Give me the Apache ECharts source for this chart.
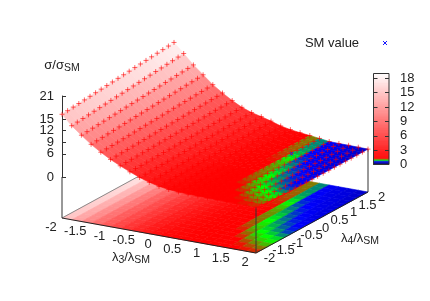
<!DOCTYPE html>
<html>
<head>
<meta charset="utf-8">
<style>html,body{margin:0;padding:0;background:#fff}#c{width:430px;height:301px}</style>
<script src="https://cdn.jsdelivr.net/npm/echarts@6/dist/echarts.min.js"></script>
</head>
<body>
<div id="c"></div>
<script>
const lambda3Values = [-2,-1.8,-1.6,-1.4,-1.2,-1,-0.8,-0.6,-0.4,-0.2,0,0.2,0.4,0.6,0.8,1,1.2,1.4,1.6,1.8,2];
const lambda4Values = [-2,-1.8,-1.6,-1.4,-1.2,-1,-0.8,-0.6,-0.4,-0.2,0,0.2,0.4,0.6,0.8,1,1.2,1.4,1.6,1.8,2];
const lambda3Ticks = ['-2','-1.5','-1','-0.5','0','0.5','1','1.5','2'];
const lambda4Ticks = ['-2','-1.5','-1','-0.5','0','0.5','1','1.5','2'];
const zTicks = [0,3,6,9,12,15,18,21];
const colorbarTicks = [0,3,6,9,12,15,18];
const smPoint = [1,1,1];
// sigma/sigma_SM along lambda4 = -2..2, one list for each lambda3
const sigmaAtL3m20 = [16.2,16.34,16.48,16.62,16.76,16.9,17.04,17.18,17.32,17.46,17.6,17.74,17.88,18.02,18.16,18.3,18.44,18.58,18.72,18.86,19.0];
const sigmaAtL3m18 = [13.7,13.85,13.99,14.14,14.28,14.43,14.57,14.72,14.86,15.0,15.15,15.3,15.44,15.59,15.73,15.88,16.02,16.17,16.31,16.46,16.6];
const sigmaAtL3m16 = [11.7,11.82,11.94,12.06,12.18,12.3,12.42,12.54,12.66,12.78,12.9,13.02,13.14,13.26,13.38,13.5,13.62,13.74,13.86,13.98,14.1];
const sigmaAtL3m14 = [9.8,9.91,10.02,10.13,10.24,10.35,10.46,10.57,10.68,10.79,10.9,11.01,11.12,11.23,11.34,11.45,11.56,11.67,11.78,11.89,12.0];
const sigmaAtL3m12 = [8.2,8.29,8.37,8.46,8.54,8.63,8.71,8.8,8.88,8.97,9.05,9.14,9.22,9.31,9.39,9.48,9.56,9.65,9.73,9.82,9.9];
const sigmaAtL3m10 = [6.8,6.87,6.94,7.01,7.08,7.15,7.22,7.29,7.36,7.43,7.5,7.57,7.64,7.71,7.78,7.85,7.92,7.99,8.06,8.13,8.2];
const sigmaAtL3m08 = [5.6,5.66,5.71,5.77,5.82,5.88,5.93,5.99,6.04,6.1,6.15,6.21,6.26,6.32,6.37,6.43,6.48,6.54,6.59,6.65,6.7];
const sigmaAtL3m06 = [4.5,4.55,4.59,4.64,4.68,4.73,4.77,4.82,4.86,4.91,4.95,5.0,5.04,5.09,5.13,5.18,5.22,5.27,5.31,5.36,5.4];
const sigmaAtL3m04 = [3.5,3.55,3.6,3.65,3.7,3.75,3.8,3.85,3.9,3.95,4.0,4.05,4.1,4.15,4.2,4.25,4.3,4.35,4.4,4.45,4.5];
const sigmaAtL3m02 = [2.7,2.76,2.82,2.88,2.94,3.0,3.06,3.12,3.18,3.24,3.3,3.36,3.42,3.48,3.54,3.6,3.66,3.72,3.78,3.84,3.9];
const sigmaAtL3p00 = [2.1,2.16,2.21,2.27,2.32,2.38,2.43,2.49,2.54,2.6,2.65,2.71,2.76,2.82,2.87,2.93,2.98,3.04,3.09,3.15,3.2];
const sigmaAtL3p02 = [1.75,1.78,1.82,1.85,1.88,1.91,1.95,1.98,2.01,2.04,2.08,2.11,2.14,2.17,2.2,2.24,2.27,2.3,2.33,2.37,2.4];
const sigmaAtL3p04 = [1.55,1.57,1.59,1.6,1.62,1.64,1.66,1.67,1.69,1.71,1.73,1.74,1.76,1.78,1.8,1.81,1.83,1.85,1.87,1.88,1.9];
const sigmaAtL3p06 = [1.45,1.45,1.45,1.45,1.45,1.45,1.46,1.46,1.46,1.47,1.47,1.48,1.48,1.49,1.5,1.5,1.5,1.51,1.52,1.53,1.55];
const sigmaAtL3p08 = [1.42,1.42,1.42,1.42,1.42,1.41,1.41,1.41,1.4,1.4,1.39,1.39,1.38,1.37,1.36,1.35,1.34,1.33,1.31,1.29,1.27];
const sigmaAtL3p10 = [1.38,1.38,1.38,1.37,1.36,1.34,1.29,1.28,1.27,1.26,1.25,1.22,1.2,1.15,1.1,1.05,1.0,0.99,0.98,0.98,0.98];
const sigmaAtL3p12 = [1.36,1.36,1.36,1.34,1.3,1.24,1.14,1.08,1.04,1.01,0.98,0.95,0.9,0.84,0.78,0.73,0.69,0.67,0.65,0.64,0.64];
const sigmaAtL3p14 = [1.35,1.34,1.3,1.2,1.1,1.0,0.95,0.92,0.89,0.86,0.82,0.78,0.74,0.7,0.66,0.63,0.61,0.6,0.59,0.59,0.58];
const sigmaAtL3p16 = [1.32,1.26,1.18,1.08,1.0,0.95,0.9,0.84,0.79,0.75,0.71,0.68,0.65,0.63,0.61,0.6,0.59,0.58,0.57,0.57,0.56];
const sigmaAtL3p18 = [1.3,1.21,1.12,1.02,0.96,0.9,0.8,0.74,0.69,0.66,0.63,0.61,0.59,0.58,0.57,0.56,0.55,0.54,0.54,0.53,0.52];
const sigmaAtL3p20 = [1.28,1.17,1.06,0.98,0.92,0.84,0.72,0.66,0.62,0.6,0.58,0.56,0.55,0.54,0.54,0.53,0.52,0.51,0.5,0.49,0.48];

const sigma = [sigmaAtL3m20,sigmaAtL3m18,sigmaAtL3m16,sigmaAtL3m14,sigmaAtL3m12,sigmaAtL3m10,sigmaAtL3m08,
  sigmaAtL3m06,sigmaAtL3m04,sigmaAtL3m02,sigmaAtL3p00,sigmaAtL3p02,sigmaAtL3p04,sigmaAtL3p06,sigmaAtL3p08,
  sigmaAtL3p10,sigmaAtL3p12,sigmaAtL3p14,sigmaAtL3p16,sigmaAtL3p18,sigmaAtL3p20];

const FONT = '"Liberation Sans", Arial, sans-serif';
const FS = 13;
const INK = '#222';
const BASE_Z = -10.6;

// orthographic view of the 3D box, expressed on the hidden plane axes of the main grid
function project(l3, l4, z) {
  const a = (l3 + 2) / 4, b = (l4 + 2) / 4;
  return [62 + a * 194 + b * 112, 218 + a * 35 - b * 61 - (z - BASE_Z) * 3.87];
}

// palette
const stops = [[0,[0,0,40]],[0.65,[0,0,255]],[0.95,[0,255,0]],[1.3,[255,0,0]],[19,[255,255,255]]];
function paletteColor(v) {
  v = Math.max(0, Math.min(19, v));
  for (let k = 1; k < stops.length; k++) {
    if (v <= stops[k][0]) {
      const t = (v - stops[k-1][0]) / (stops[k][0] - stops[k-1][0]);
      const c = stops[k-1][1].map((p, n) => Math.round(p + (stops[k][1][n] - p) * t));
      return 'rgb(' + c.join(',') + ')';
    }
  }
  return '#fff';
}

const cells = [];
for (let i = 0; i < 20; i++) for (let j = 19; j >= 0; j--) cells.push([i, j]);
const nodes = [];
for (let i = 0; i < 21; i++) for (let j = 20; j >= 0; j--) nodes.push([i, j]);

function cellRenderer(flat) {
  return function (params, api) {
    const i = api.value(0), j = api.value(1);
    const corner = (p, q) => {
      const z = sigma[p][q];
      return api.coord(project(lambda3Values[p], lambda4Values[q], flat ? BASE_Z : z));
    };
    const mean = (sigma[i][j] + sigma[i+1][j] + sigma[i][j+1] + sigma[i+1][j+1]) / 4;
    const col = paletteColor(mean);
    return { type: 'polygon',
      shape: { points: [corner(i,j), corner(i+1,j), corner(i+1,j+1), corner(i,j+1)] },
      style: { fill: col, stroke: col, lineWidth: 0.6 } };
  };
}

function crossRenderer(params, api) {
  const i = api.value(0), j = api.value(1);
  const c = api.coord(project(lambda3Values[i], lambda4Values[j], sigma[i][j]));
  const r = 2.5, st = { stroke: 'rgba(255,0,0,0.8)', lineWidth: 0.75 };
  return { type: 'group', children: [
    { type: 'line', shape: { x1: c[0]-r, y1: c[1], x2: c[0]+r, y2: c[1] }, style: st },
    { type: 'line', shape: { x1: c[0], y1: c[1]-r, x2: c[0], y2: c[1]+r }, style: st }
  ]};
}

function xMark(c, r) {
  const st = { stroke: '#1a1aff', lineWidth: 1 };
  return { type: 'group', children: [
    { type: 'line', shape: { x1: c[0]-r, y1: c[1]-r, x2: c[0]+r, y2: c[1]+r }, style: st },
    { type: 'line', shape: { x1: c[0]-r, y1: c[1]+r, x2: c[0]+r, y2: c[1]-r }, style: st }
  ]};
}

const subRich = {
  a: { fontSize: 13, fontFamily: FONT, fill: INK },
  s: { fontSize: 10.5, fontFamily: FONT, fill: INK, padding: [7, 0, 0, 0] }
};
function richLabel(c, text) {
  return { type: 'text', x: c[0], y: c[1],
    style: { text: text, rich: subRich, align: 'center', verticalAlign: 'middle', fill: INK, fontFamily: FONT, fontSize: 13 } };
}
function plainLabel(c, text) {
  return { type: 'text', x: c[0], y: c[1],
    style: { text: text, align: 'center', verticalAlign: 'middle', fill: INK, fontFamily: FONT, fontSize: FS } };
}

function labelsRenderer(params, api) {
  const kids = [];
  lambda3Ticks.forEach(t => {
    const p = api.coord(project(+t, -2, BASE_Z));
    kids.push(plainLabel([p[0] - 11, p[1] + 9.3], t));
  });
  lambda4Ticks.forEach(t => {
    const p = api.coord(project(2, +t, BASE_Z));
    kids.push(plainLabel([p[0] + 13.5, p[1] + 5.5], t));
  });
  kids.push(richLabel(api.coord([131, 257]), '{a|λ}{s|3}{a|/λ}{s|SM}'));
  kids.push(richLabel(api.coord([360, 238]), '{a|λ}{s|4}{a|/λ}{s|SM}'));
  kids.push(richLabel(api.coord([62, 65]), '{a|σ/σ}{s|SM}'));
  kids.push({ type: 'text', x: api.coord([332,0])[0], y: api.coord([0,43])[1],
    style: { text: 'SM value', align: 'center', verticalAlign: 'middle', fill: INK, fontFamily: FONT, fontSize: 13 } });
  kids.push(xMark(api.coord([385, 43]), 2));
  return { type: 'group', children: kids };
}

const nBar = 190;
const barLevels = Array.from({ length: nBar }, (_, k) => [k]);

const edgeLine = (pts, color, z, w) => ({
  type: 'line', xAxisIndex: 0, yAxisIndex: 0, data: pts, showSymbol: false, symbol: 'none', silent: true, z: z,
  lineStyle: { color: color, width: w || 1 }, clip: false, animation: false
});

const chart = echarts.init(document.getElementById('c'), null, { renderer: 'canvas', width: 430, height: 301 });
chart.setOption({
  animation: false,
  backgroundColor: '#fff',
  grid: [
    { left: 0, top: 0, width: 430, height: 301 },
    { left: 62, top: 96, width: 10, height: 81 },
    { left: 373.5, top: 73.5, width: 15.5, height: 91 }
  ],
  xAxis: [
    { type: 'value', gridIndex: 0, min: 0, max: 430, show: false },
    { type: 'value', gridIndex: 1, min: 0, max: 1, show: false },
    { type: 'value', gridIndex: 2, min: 0, max: 1, show: false }
  ],
  yAxis: [
    { type: 'value', gridIndex: 0, min: 0, max: 301, inverse: true, show: false },
    { type: 'value', gridIndex: 1, min: 0, max: 21, interval: 3, position: 'left', z: 1,
      splitLine: { show: false },
      axisLine: { show: true, onZero: false, lineStyle: { color: '#333', width: 1 } },
      axisTick: { show: true, inside: true, length: 4, lineStyle: { color: '#333', width: 1 }, customValues: zTicks },
      axisLabel: { show: true, margin: 8, color: INK, fontFamily: FONT, fontSize: FS, hideOverlap: false,
                   showMinLabel: true, showMaxLabel: true, customValues: zTicks } },
    { type: 'value', gridIndex: 2, min: 0, max: 19, position: 'left', z: 6,
      splitLine: { show: false },
      axisLine: { show: false },
      axisTick: { show: true, inside: true, length: 4, lineStyle: { color: '#333', width: 1 }, customValues: colorbarTicks },
      axisLabel: { show: false } },
    { type: 'value', gridIndex: 2, min: 0, max: 19, position: 'right', z: 6,
      splitLine: { show: false },
      axisLine: { show: false },
      axisTick: { show: true, inside: true, length: 4, lineStyle: { color: '#333', width: 1 }, customValues: colorbarTicks },
      axisLabel: { show: true, margin: 11, color: INK, fontFamily: FONT, fontSize: FS, align: 'left', customValues: colorbarTicks } }
  ],
  series: [
    { type: 'custom', name: 'base', xAxisIndex: 0, yAxisIndex: 0, data: cells, renderItem: cellRenderer(true), z: 2, silent: true, clip: false, animation: false },
    edgeLine([project(-2,-2,BASE_Z), project(-2,2,BASE_Z)], '#8a8a8a', 3, 1),
    edgeLine([project(-2,-2,BASE_Z), project(2,-2,BASE_Z)], '#222', 3, 1),
    edgeLine([project(2,-2,BASE_Z), project(2,2,BASE_Z)], '#222', 3, 1),
    edgeLine([project(-2,-2,BASE_Z), project(-2,-2,0)], '#333', 3, 1),
    edgeLine([project(2,-2,BASE_Z), project(2,-2,sigma[20][0])], '#333', 3, 1),
    edgeLine([project(2,2,BASE_Z), project(2,2,sigma[20][20])], '#333', 3, 1),
    { type: 'custom', name: 'surface', xAxisIndex: 0, yAxisIndex: 0, data: cells, renderItem: cellRenderer(false), z: 4, silent: true, clip: false, animation: false },
    { type: 'custom', name: 'grid points', xAxisIndex: 0, yAxisIndex: 0, data: nodes, renderItem: crossRenderer, z: 5, silent: true, clip: false, animation: false },
    { type: 'custom', name: 'SM value', xAxisIndex: 0, yAxisIndex: 0, data: [smPoint],
      renderItem: (p, api) => xMark(api.coord(project(api.value(0), api.value(1), api.value(2))), 1.7),
      z: 6, silent: true, clip: false, animation: false },
    { type: 'custom', name: 'labels', xAxisIndex: 0, yAxisIndex: 0, data: [[0]], renderItem: labelsRenderer, z: 7, silent: true, clip: false, animation: false },
    { type: 'custom', name: 'colorbar', xAxisIndex: 2, yAxisIndex: 2, data: barLevels, z: 4, silent: true, clip: false, animation: false,
      renderItem: (p, api) => {
        const v = api.value(0) / 10;
        const a = api.coord([0, v]), b = api.coord([1, v + 0.1]);
        const col = paletteColor(v + 0.05);
        return { type: 'rect', shape: { x: a[0], y: b[1], width: b[0] - a[0], height: a[1] - b[1] }, style: { fill: col, stroke: col, lineWidth: 0.3 } };
      } },
    { type: 'custom', name: 'colorbar frame', xAxisIndex: 2, yAxisIndex: 2, data: [[0]], z: 5, silent: true, clip: false, animation: false,
      renderItem: (p, api) => {
        const a = api.coord([0, 0]), b = api.coord([1, 19]);
        return { type: 'rect', shape: { x: a[0], y: b[1], width: b[0] - a[0], height: a[1] - b[1] }, style: { fill: 'none', stroke: '#333', lineWidth: 1 } };
      } }
  ]
});
</script>
</body>
</html>
